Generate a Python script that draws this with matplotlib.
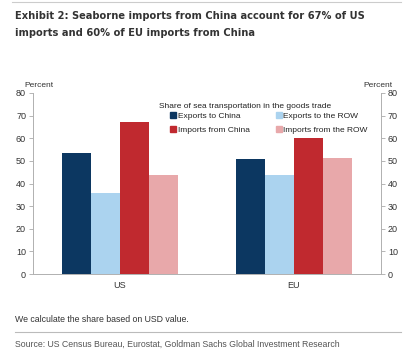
import numpy as np
import matplotlib.pyplot as plt
from matplotlib.lines import Line2D

plt.rcParams['font.family'] = ['Liberation Sans', 'DejaVu Sans']

regions = ['US', 'EU']
series = ['Exports to China', 'Exports to the ROW', 'Imports from China', 'Imports from the ROW']
values = [
    [53.3, 50.8],   # Exports to China
    [35.9, 43.8],   # Exports to the ROW
    [67.0, 60.0],   # Imports from China
    [43.6, 51.4],   # Imports from the ROW
]
colors = ['#0c3761', '#abd3ef', '#c0292f', '#e8a8aa']
yticks = [0, 10, 20, 30, 40, 50, 60, 70, 80]
title_lines = ['Exhibit 2: Seaborne imports from China account for 67% of US',
               'imports and 60% of EU imports from China']

fig = plt.figure(figsize=(4.09, 3.56), dpi=100)
ax = fig.add_axes([33 / 409, 82 / 356, 348 / 409, 181 / 356])

x = np.arange(len(regions))
w = 1 / 6
for i, (s, v) in enumerate(zip(series, values)):
    ax.bar(x + (i - 1.5) * w, v, width=w, color=colors[i], label=s, linewidth=0)

ax.set_xlim(-0.5, 1.5)
ax.set_ylim(0, 80)
ax.set_xticks(x)
ax.set_xticklabels(regions, fontsize=6.5, color='#333333')
ax.set_yticks(yticks)
ax.tick_params(axis='x', length=0, pad=5)
ax.tick_params(axis='y', labelsize=6.5, labelcolor='#333333', color='#aaaaaa',
               length=3, width=0.6, left=True, right=True, labelright=True, pad=2)
for side in ['left', 'right', 'bottom']:
    ax.spines[side].set_color('#b0b0b0')
    ax.spines[side].set_linewidth(0.7)
ax.spines['top'].set_visible(False)

ax.text(6 / 348, 1.02, 'Percent', transform=ax.transAxes, ha='center', va='bottom',
        fontsize=6, color='#333333')
ax.text(1 - 3 / 348, 1.02, 'Percent', transform=ax.transAxes, ha='center', va='bottom',
        fontsize=6, color='#333333')

# legend title as its own text, entries below it
ax.text(0.609, 0.923, 'Share of sea transportation in the goods trade',
        transform=ax.transAxes, ha='center', va='center', fontsize=6, color='#222222')
handles = [Line2D([], [], marker='s', linestyle='', color=c, markersize=4) for c in colors]
order = [0, 2, 1, 3]
leg = ax.legend([handles[i] for i in order], [series[i] for i in order], ncol=2,
                fontsize=6, frameon=False,
                loc='upper left', bbox_to_anchor=(0.391, 0.895),
                borderpad=0, borderaxespad=0,
                handletextpad=0.05, columnspacing=3.0, labelspacing=0.8,
                handlelength=1.0)
for t in leg.get_texts():
    t.set_color('#222222')

for k, (line, ypix) in enumerate(zip(title_lines, [16, 32.5])):
    fig.text(15 / 409, 1 - ypix / 356, line,
             family=['DejaVu Sans'], fontstretch='condensed',
             fontweight='bold', fontsize=7.9, color='#333333', va='center', ha='left')

fig.add_artist(Line2D([0.03, 0.98], [1 - 2 / 356, 1 - 2 / 356], color='#cccccc', lw=0.8))
fig.text(15 / 409, 1 - 320 / 356, 'We calculate the share based on USD value.',
         fontsize=6.3, color='#333333', va='center')
fig.add_artist(Line2D([15 / 409, 0.98], [1 - 332 / 356, 1 - 332 / 356], color='#bbbbbb', lw=0.8))
fig.text(15 / 409, 1 - 344 / 356,
         'Source: US Census Bureau, Eurostat, Goldman Sachs Global Investment Research',
         fontsize=6.3, color='#555555', va='center')

fig.savefig('out.png', dpi=100)
